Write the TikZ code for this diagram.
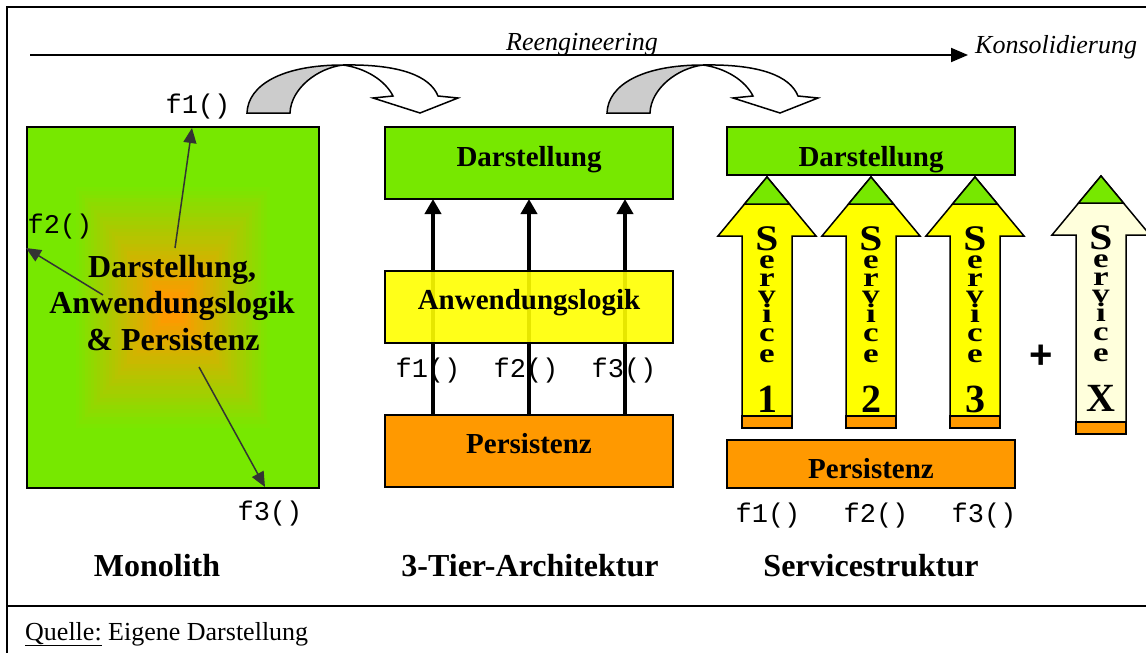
\documentclass[tikz,border=0pt]{standalone}
\usepackage{graphicx}
\usepackage{fontspec}
\setmainfont{Liberation Serif}
\setmonofont{Liberation Mono}
\newfontfamily\heavyfont{Liberation Sans}
\usetikzlibrary{arrows.meta,calc}

\definecolor{lgreen}{HTML}{77E800}
\definecolor{tyellow}{HTML}{FFFF00}
\definecolor{torange}{HTML}{FF9900}
\definecolor{cream}{HTML}{FFFFDC}
\definecolor{bendgray}{HTML}{CCCCCC}
\definecolor{pointergray}{HTML}{333333}

% one service column: up-arrow with green tip, orange foot and stacked label
\newcommand\servicearrow[6]{%
  \draw[line width=1.5pt, fill=#4] (#1,#2) -- ({#1+49},{#2+59}) -- ({#1+25},{#2+59})
    -- ({#1+25},#3) -- ({#1-25},#3) -- ({#1-25},{#2+59}) -- ({#1-49},{#2+59}) -- cycle;
  \draw[line width=1.5pt, fill=lgreen] (#1,#2) -- ({#1+22.5},{#2+27}) -- ({#1-22.5},{#2+27}) -- cycle;
  \draw[line width=1.5pt, fill=torange] ({#1-25},{#3-12}) rectangle ({#1+25},#3);
  \node[svccap] (#6-0) at (#1,{#2+73}) {\scalebox{1.15}[1]{S}};
  \foreach \ch/\dy [count=\k] in {e/91,r/109,v/126,i/145,c/164,e/185}
    \node[svcletter] (#6-\k) at (#1,{#2+\dy}) {\scalebox{1.3}[1]{\ch}};
  \node[svcnum] (#6-n) at (#1,{#2+235}) {#5};
}

% bent transition arrow (grey back, white front with head)
\newcommand\bendarrow[1]{%
  \begin{scope}[shift={(#1,0)}]
    \draw[line width=1.5pt, fill=bendgray] (247,113) .. controls (248,85) and (282,65) .. (343,65)
      .. controls (318,68) and (291,88) .. (290,113) -- cycle;
    \draw[line width=1.5pt, fill=white, line join=miter] (343,65) .. controls (400,64) and (430,76) .. (438,96)
      -- (458,98) -- (420,113) -- (373,98) -- (393,96)
      .. controls (385,80) and (365,68) .. (343,65) -- cycle;
  \end{scope}
}

\begin{document}
\begin{tikzpicture}[x=1pt,y=-1pt,
  layer/.style={draw=black, line width=2pt, minimum width=288pt, inner sep=0pt, outer sep=0pt},
  boxtext/.style={font=\fontsize{29}{34}\selectfont\bfseries, anchor=base, inner sep=0pt},
  montext/.style={font=\fontsize{32}{37}\selectfont\bfseries, anchor=base, inner sep=0pt},
  titletext/.style={font=\fontsize{32}{38}\selectfont\bfseries, anchor=base, inner sep=0pt},
  func/.style={font=\fontsize{27}{30}\selectfont\ttfamily, anchor=base, inner sep=0pt},
  note/.style={font=\fontsize{26}{30}\selectfont\itshape, anchor=base, inner sep=0pt},
  svcletter/.style={font=\fontsize{27}{27}\selectfont\bfseries, anchor=base, inner sep=0pt},
  svccap/.style={font=\fontsize{36}{36}\selectfont\bfseries, anchor=base, inner sep=0pt},
  svcnum/.style={font=\fontsize{40}{40}\selectfont\bfseries, anchor=base, inner sep=0pt},
  pointer/.style={draw=pointergray, line width=1.5pt, -{Triangle[length=15pt,width=13pt]}},
  call/.style={line width=4.5pt, -{Triangle[length=15pt,width=16pt]}}]

\useasboundingbox (0,0) rectangle (1146,653);
\fill[white] (0,0) rectangle (1146,653);

% frame and source line
\draw[line width=2pt] (1146,7) -- (7,7) -- (7,653);
\draw[line width=2pt] (7,606) -- (1146,606);
\node[font=\fontsize{26}{30}\selectfont, anchor=base west, inner sep=0pt] (src) at (25,640)
  {\underline{Quelle:} Eigene Darstellung};

% evolution axis
\coordinate (flowstart) at (30,55);
\coordinate (flowend) at (968,55);
\draw[line width=2pt, -{Triangle[length=17pt,width=14pt]}] (flowstart) -- (flowend);
\node[note] (reeng) at (582,50) {Reengineering};
\node[note, anchor=base west] (konso) at (975,53) {Konsolidierung};

\bendarrow{0}
\bendarrow{360}

% ---------- Monolith ----------
\node[minimum width=292pt, minimum height=361pt, inner sep=0pt, outer sep=0pt] (mono) at (173,307.5) {};
\foreach \i in {0,...,48} {
  \pgfmathsetmacro\t{1-\i/48}
  \pgfmathtruncatemacro\p{min(100,max(0,(\t-0.06)/0.62*100))}
  \fill[lgreen!\p!torange] ($(mono.center)+({-146*\t},{-180.5*\t})$) rectangle ($(mono.center)+({146*\t},{180.5*\t})$);
}
\node[draw=black, line width=2pt, minimum width=292pt, minimum height=361pt, inner sep=0pt, outer sep=0pt] (monoframe) at (mono.center) {};

\node[montext] (mt1) at (172,277) {Darstellung,};
\node[montext] (mt2) at (172,313) {Anwendungslogik};
\node[montext] (mt3) at (173,350) {\&\ Persistenz};

\node[func] (mf1) at (198,113) {f1()};
\node[func] (mf2) at (60,233) {f2()};
\node[func] (mf3) at (270,520) {f3()};

\coordinate (p1s) at (175,248); \coordinate (p1e) at (192,128);
\coordinate (p2s) at (103,295); \coordinate (p2e) at (26,248);
\coordinate (p3s) at (199,367); \coordinate (p3e) at (265,487);
\draw[pointer] (p1s) -- (p1e);
\draw[pointer] (p2s) -- (p2e);
\draw[pointer] (p3s) -- (p3e);

\node[titletext] (tmono) at (157,576) {Monolith};

% ---------- 3-tier architecture ----------
\node[layer, fill=lgreen, minimum height=72pt] (dar3) at (529,163) {};
\node[layer, fill=torange, minimum height=72pt] (per3) at (529,451) {};
\coordinate (c1) at (433,300);
\coordinate (c2) at (529,300);
\coordinate (c3) at (625,300);
\foreach \c in {c1,c2,c3}
  \draw[call] (\c |- per3.north) -- (\c |- dar3.south);
\node[layer, fill=tyellow, fill opacity=0.9, minimum height=72pt] (anw3) at (529,307) {};

\node[boxtext] (dar3t) at (529,166) {Darstellung};
\node[boxtext] (anw3t) at (529,309) {Anwendungslogik};
\node[boxtext] (per3t) at (529,453) {Persistenz};

\node[func] (tf1) at (428,377) {f1()};
\node[func] (tf2) at (526,377) {f2()};
\node[func] (tf3) at (624,377) {f3()};

\node[titletext] (ttier) at (530,576) {3-Tier-Architektur};

% ---------- service structure ----------
\node[layer, fill=lgreen, minimum height=48pt] (dar4) at (871,151) {};
\node[boxtext] (dar4t) at (871,166) {Darstellung};
\node[layer, fill=torange, minimum height=48pt] (per4) at (871,464) {};
\node[boxtext] (per4t) at (871,478) {Persistenz};

\servicearrow{767}{177}{428}{tyellow}{1}{svca}
\servicearrow{871}{177}{428}{tyellow}{2}{svcb}
\servicearrow{975}{177}{428}{tyellow}{3}{svcc}
\servicearrow{1101}{176}{434}{cream}{X}{svcx}

\node[font=\fontsize{40}{40}\selectfont\heavyfont\bfseries, inner sep=0pt] (plus) at (1041,357) {+};

\node[func] (sf1) at (768,522) {f1()};
\node[func] (sf2) at (876,522) {f2()};
\node[func] (sf3) at (984,522) {f3()};

\node[titletext] (tsvc) at (871,576) {Servicestruktur};

\end{tikzpicture}
\end{document}
